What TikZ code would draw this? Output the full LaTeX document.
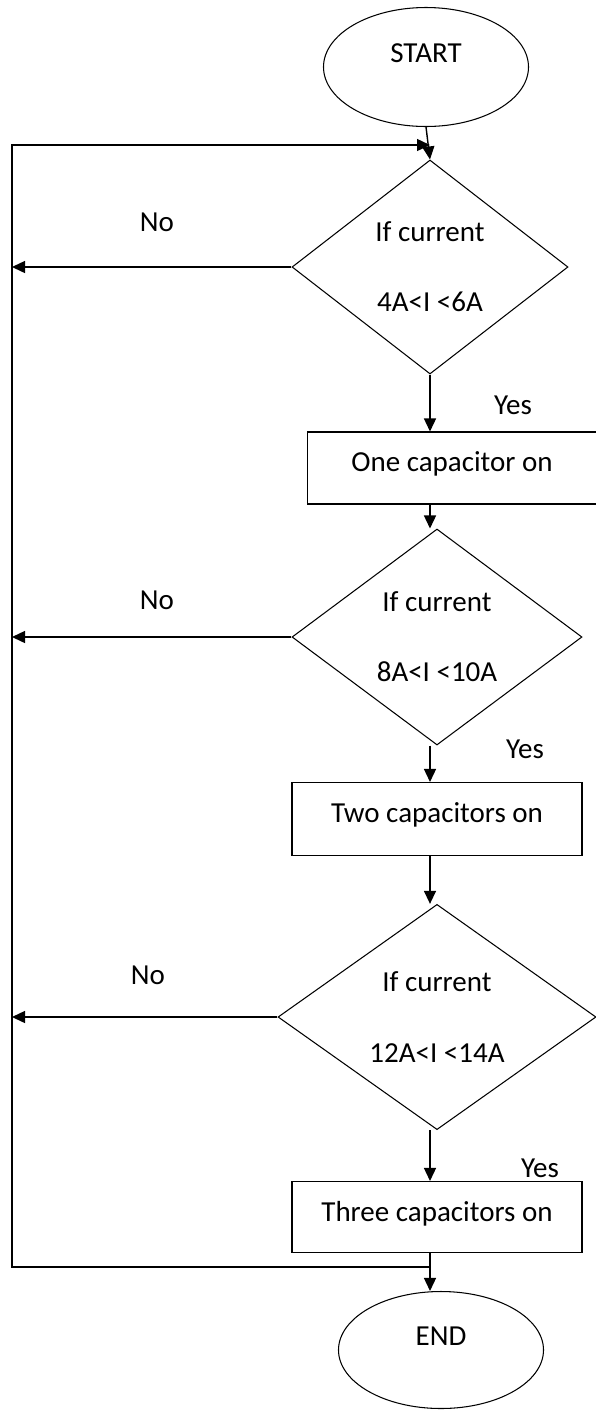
\documentclass[tikz,border=0pt]{standalone}
\usepackage{fontspec}
\setmainfont{Carlito}
\usepackage{tikz}
\usetikzlibrary{shapes.geometric}
\usetikzlibrary{arrows.meta}
\tikzset{
	term/.style={ellipse,draw=black,semithick,inner sep=0pt,text depth=5.6mm},
	decide/.style={diamond,draw=black,semithick,inner sep=0pt,align=center},
	proc/.style={rectangle,draw=black,semithick,inner sep=0pt,text depth=2.4mm},
	flow/.style={thick,->},
	labl/.style={inner sep=1pt},
	>={Triangle[length=2.6mm,width=2.4mm]},
	}

\begin{document}
\begin{tikzpicture}[x=0.2mm,y=-0.2mm,font=\fontsize{16.5}{19}\selectfont]
\useasboundingbox (0,0) rectangle (596,1410);

\node (start) at (426,67) [term,minimum width=41mm,minimum height=23.8mm] {START};
\node (d1) at (430,267) [decide,minimum width=55.2mm,minimum height=42.8mm] {If current\\[21pt]4A<I <6A};
\node (box1) at (452,468) [proc,minimum width=57.8mm,minimum height=14.4mm] {One capacitor on};
\node (d2) at (437,637) [decide,minimum width=58mm,minimum height=43.2mm] {If current\\[21pt]8A<I <10A};
\node (box2) at (437,819) [proc,minimum width=58mm,minimum height=14.6mm] {Two capacitors on};
\node (d3) at (437,1017) [decide,minimum width=63.6mm,minimum height=42.8mm] {If current\\[21pt]12A<I <14A};
\node (box3) at (437,1217) [proc,minimum width=58mm,minimum height=14.2mm] {Three capacitors on};
\node (end) at (441,1350) [term,minimum width=41mm,minimum height=23.4mm] {END};

\node (no1) at (157,222) [labl] {No};
\node (no2) at (157,600) [labl] {No};
\node (no3) at (148,975) [labl] {No};
\node (yes1) at (513,405) [labl] {Yes};
\node (yes2) at (525,749) [labl] {Yes};
\node (yes3) at (540,1168) [labl] {Yes};

\coordinate (lt) at (12,145);
\coordinate (lb) at (12,1267);
\coordinate (jt) at (430,145);
\coordinate (jb) at (430,1267);

\draw[flow] (start.south) -- (d1.north);
\draw[flow] (d1.south) -- (d1.south |- box1.north);
\draw[flow] (box1.south -| jt) -- (d2.north -| jt);
\draw[flow] (d2.south -| jt) -- (box2.north -| jt);
\draw[flow] (box2.south -| jt) -- (d3.north -| jt);
\draw[flow] (d3.south -| jt) -- (box3.north -| jt);
\draw[flow] (box3.south -| jb) -- (end.north -| jb);

% loop back for the No branches
\draw[flow] (d1.west) -- (d1.west -| lt);
\draw[flow] (d2.west) -- (d2.west -| lt);
\draw[flow] (d3.west) -- (d3.west -| lt);
\draw[flow] (jb) -- (lb) -- (lt) -- (jt);
\end{tikzpicture}
\end{document}
